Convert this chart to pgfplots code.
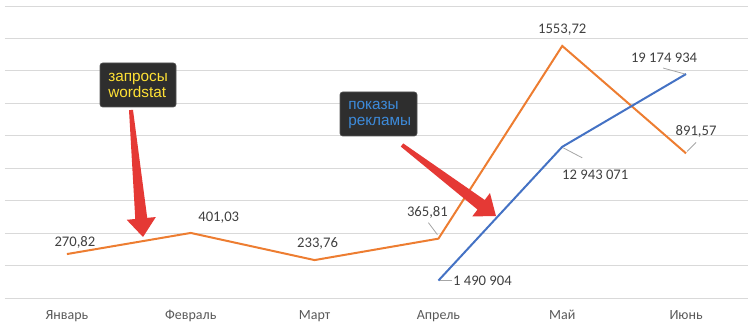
\documentclass[border=0pt]{standalone}
\usepackage{pgfplots}
\pgfplotsset{compat=1.18}
\usepackage{pgfplotstable}
\usetikzlibrary{calc}
\usepackage{fontspec}
\setmainfont{Carlito}
\newfontfamily\arial{Liberation Sans}
\definecolor{orng}{HTML}{ED7D31}
\definecolor{blu}{HTML}{4472C4}
\definecolor{gridg}{HTML}{D9D9D9}
\definecolor{lbl}{HTML}{404040}
\definecolor{xlbl}{HTML}{595959}
\definecolor{boxg}{HTML}{2E2E2E}
\definecolor{boxedge}{HTML}{555555}
\definecolor{ylw}{HTML}{FFE135}
\definecolor{bltxt}{HTML}{3D8BDB}
\definecolor{arrred}{HTML}{E53935}
\definecolor{leader}{HTML}{A6A6A6}

\pgfplotstableread{
x y
0 270.82
1 401.03
2 233.76
3 365.81
4 1553.72
5 891.57
}\wordstat
\pgfplotstableread{
x y
3 1490904
4 12943071
5 19174934
}\shows

\pgfplotsset{
  base/.style={scale only axis, width=557.25pt, height=219pt,
    xmin=-0.5, xmax=5.5, ymin=0, at={(3.75pt,23.25pt)}, anchor=south west,
    axis line style={draw=none}, tick style={draw=none}, clip=false},
}
\tikzset{dl/.style={anchor=center, inner sep=0pt, font=\fontsize{11}{13}\selectfont, text=lbl},
  ld/.style={leader, line width=0.6pt}}

% label at data point with offset in px (x right, y up)
\newcommand\dlab[5]{\node[dl] at ([shift={({#3*0.75pt},{#4*0.75pt})}]axis cs:#1,#2) {#5};}

\newcommand\redarrow[4]{%
  \begin{scope}
    \coordinate (T) at (#1,#2);
    \coordinate (H) at (#3,#4);
    \coordinate (B) at ($(H)!14pt!(T)$);
    \fill[arrred] ($(T)!1.5pt!90:(H)$) -- ($(B)!4.5pt!90:(H)$) -- ($(B)!11pt!90:(H)$)
      -- (H) -- ($(B)!11pt!-90:(H)$) -- ($(B)!4.5pt!-90:(H)$) -- ($(T)!1.5pt!-90:(H)$) -- cycle;
  \end{scope}}

\begin{document}
\begin{tikzpicture}
\useasboundingbox (0,0) rectangle (563.25pt,246.75pt);
\begin{axis}[base, ymax=1800, ytick={0,200,...,1800}, yticklabels={},
  ymajorgrids, major grid style={gridg, line width=0.75pt},
  xtick={0,...,5}, xticklabels={Январь,Февраль,Март,Апрель,Май,Июнь},
  xticklabel style={font=\fontsize{10.5}{12}\selectfont, text=xlbl, yshift=-5.5pt}]
\addplot[orng, line width=1.5pt, mark=none] table[x=x, y=y] {\wordstat};
\dlab{0}{270.82}{8}{12}{270,82}
\dlab{1}{401.03}{28}{15}{401,03}
\dlab{2}{233.76}{3}{17}{233,76}
\dlab{3}{365.81}{-11}{26}{365,81}
\dlab{4}{1553.72}{0}{16}{1553,72}
\dlab{5}{891.57}{10}{22}{891,57}
\draw[ld] ([shift={(-0.75pt,3pt)}]axis cs:3,365.81) -- ([shift={(-7.5pt,12pt)}]axis cs:3,365.81);
\draw[ld] ([shift={(0.75pt,1.5pt)}]axis cs:5,891.57) -- ([shift={(7.5pt,8.25pt)}]axis cs:5,891.57);
\end{axis}
\begin{axis}[base, ymax=25000000, xtick=\empty, ytick=\empty]
\addplot[blu, line width=1.5pt, mark=none] table[x=x, y=y] {\shows};
\dlab{3}{1490904}{44}{0}{1 490 904}
\dlab{4}{12943071}{33}{-28}{12 943 071}
\dlab{5}{19174934}{-22}{16}{19 174 934}
\draw[ld] ([shift={(1.5pt,0pt)}]axis cs:3,1490904) -- ([shift={(10.5pt,0pt)}]axis cs:3,1490904);
\draw[ld] ([shift={(0.75pt,-0.75pt)}]axis cs:4,12943071) -- ([shift={(15pt,-8.25pt)}]axis cs:4,12943071);
\draw[ld] ([shift={(-0.75pt,0pt)}]axis cs:5,19174934) -- ([shift={(-17.25pt,4.5pt)}]axis cs:5,19174934);
\end{axis}
\begin{scope}[shift={(0,246.75pt)}, x=0.75pt, y=-0.75pt]
  \filldraw[fill=boxg, draw=boxedge, line width=0.5pt, rounded corners=2pt] (100,63) rectangle (176,107);
  \node[anchor=west, align=left, inner sep=0pt, text=ylw, font=\arial\fontsize{11.5}{12}\selectfont] at (108,85.5) {запросы\\wordstat};
  \filldraw[fill=boxg, draw=boxedge, line width=0.5pt, rounded corners=2pt] (340,92) rectangle (417,136);
  \node[anchor=west, align=left, inner sep=0pt, text=bltxt, font=\arial\fontsize{11.5}{12}\selectfont] at (348,114.5) {показы\\рекламы};
  \redarrow{131}{110}{143}{237}
  \redarrow{402}{145}{496}{216}
\end{scope}
\end{tikzpicture}
\end{document}
